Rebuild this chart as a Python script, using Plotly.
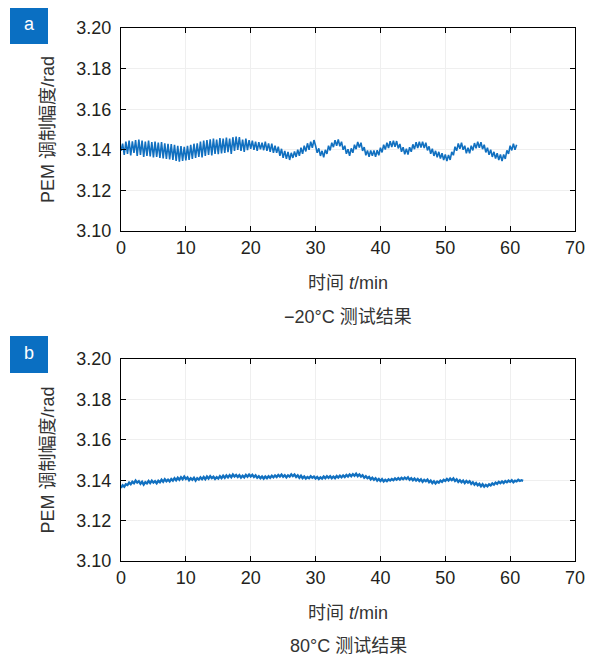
import numpy as np
import plotly.graph_objects as go

# Panel a: -20°C, sampled every 0.25 min from 0 to 61 min
vals_a = [
    3.1395, 3.1430, 3.1375, 3.1440,
    3.1380, 3.1445, 3.1372, 3.1442,
    3.1385, 3.1448, 3.1370, 3.1450,
    3.1375, 3.1445, 3.1365, 3.1440,
    3.1370, 3.1446, 3.1368, 3.1438,
    3.1362, 3.1440, 3.1365, 3.1435,
    3.1360, 3.1438, 3.1358, 3.1432,
    3.1355, 3.1430, 3.1352, 3.1428,
    3.1350, 3.1425, 3.1345, 3.1420,
    3.1342, 3.1418, 3.1345, 3.1415,
    3.1348, 3.1420, 3.1350, 3.1425,
    3.1355, 3.1430, 3.1360, 3.1432,
    3.1365, 3.1440, 3.1362, 3.1445,
    3.1370, 3.1448, 3.1375, 3.1452,
    3.1372, 3.1455, 3.1380, 3.1450,
    3.1378, 3.1458, 3.1382, 3.1455,
    3.1385, 3.1460, 3.1388, 3.1455,
    3.1380, 3.1462, 3.1395, 3.1465,
    3.1400, 3.1462, 3.1395, 3.1450,
    3.1390, 3.1455, 3.1398, 3.1448,
    3.1405, 3.1445, 3.1400, 3.1440,
    3.1395, 3.1438, 3.1402, 3.1435,
    3.1398, 3.1440, 3.1395, 3.1432,
    3.1390, 3.1430, 3.1385, 3.1420,
    3.1385, 3.1415, 3.1370, 3.1405,
    3.1360, 3.1395, 3.1355, 3.1390,
    3.1350, 3.1385, 3.1360, 3.1392,
    3.1365, 3.1400, 3.1370, 3.1410,
    3.1380, 3.1420, 3.1392, 3.1432,
    3.1400, 3.1440, 3.1410, 3.1448,
    3.1420, 3.1385, 3.1407, 3.1370,
    3.1395, 3.1363, 3.1400, 3.1380,
    3.1420, 3.1397, 3.1435, 3.1413,
    3.1447, 3.1420, 3.1451, 3.1417,
    3.1440, 3.1400, 3.1420, 3.1380,
    3.1403, 3.1370, 3.1407, 3.1385,
    3.1425, 3.1403, 3.1439, 3.1411,
    3.1435, 3.1395, 3.1413, 3.1373,
    3.1397, 3.1365, 3.1397, 3.1370,
    3.1397, 3.1365, 3.1398, 3.1373,
    3.1410, 3.1387, 3.1425, 3.1401,
    3.1435, 3.1409, 3.1442, 3.1414,
    3.1445, 3.1415, 3.1443, 3.1407,
    3.1429, 3.1390, 3.1413, 3.1378,
    3.1405, 3.1377, 3.1413, 3.1390,
    3.1427, 3.1403, 3.1437, 3.1409,
    3.1440, 3.1411, 3.1440, 3.1409,
    3.1435, 3.1397, 3.1417, 3.1380,
    3.1405, 3.1370, 3.1395, 3.1363,
    3.1390, 3.1357, 3.1383, 3.1350,
    3.1377, 3.1345, 3.1375, 3.1350,
    3.1390, 3.1373, 3.1415, 3.1395,
    3.1431, 3.1405, 3.1435, 3.1400,
    3.1420, 3.1383, 3.1410, 3.1383,
    3.1420, 3.1397, 3.1433, 3.1407,
    3.1440, 3.1410, 3.1437, 3.1403,
    3.1425, 3.1387, 3.1410, 3.1375,
    3.1400, 3.1365, 3.1390, 3.1357,
    3.1383, 3.1350, 3.1377, 3.1345,
    3.1377, 3.1355, 3.1397, 3.1380,
    3.1420, 3.1397, 3.1430, 3.1400,
    3.1425,
]

# Panel b: 80°C, sampled every 0.25 min from 0 to 62 min
vals_b = [
    3.1362, 3.1375, 3.1368, 3.1380,
    3.1376, 3.1388, 3.1380, 3.1392,
    3.1385, 3.1398, 3.1388, 3.1395,
    3.1382, 3.1392, 3.1378, 3.1390,
    3.1384, 3.1396, 3.1386, 3.1398,
    3.1388, 3.1395, 3.1385, 3.1397,
    3.1390, 3.1402, 3.1392, 3.1405,
    3.1395, 3.1403, 3.1394, 3.1406,
    3.1398, 3.1410, 3.1400, 3.1412,
    3.1402, 3.1415, 3.1405, 3.1418,
    3.1406, 3.1414, 3.1400, 3.1410,
    3.1402, 3.1412, 3.1398, 3.1410,
    3.1403, 3.1414, 3.1405, 3.1416,
    3.1405, 3.1418, 3.1408, 3.1420,
    3.1410, 3.1417, 3.1406, 3.1415,
    3.1408, 3.1420, 3.1410, 3.1422,
    3.1412, 3.1424, 3.1414, 3.1425,
    3.1415, 3.1428, 3.1418, 3.1426,
    3.1416, 3.1425, 3.1413, 3.1422,
    3.1414, 3.1426, 3.1417, 3.1428,
    3.1418, 3.1427, 3.1416, 3.1424,
    3.1412, 3.1420, 3.1410, 3.1418,
    3.1408, 3.1418, 3.1410, 3.1420,
    3.1412, 3.1422, 3.1414, 3.1424,
    3.1416, 3.1426, 3.1418, 3.1428,
    3.1417, 3.1425, 3.1414, 3.1424,
    3.1418, 3.1429, 3.1420, 3.1428,
    3.1416, 3.1424, 3.1412, 3.1422,
    3.1410, 3.1418, 3.1408, 3.1416,
    3.1410, 3.1420, 3.1412, 3.1418,
    3.1408, 3.1416, 3.1406, 3.1414,
    3.1408, 3.1418, 3.1410, 3.1420,
    3.1412, 3.1420, 3.1410, 3.1418,
    3.1410, 3.1421, 3.1413, 3.1422,
    3.1414, 3.1424, 3.1416, 3.1426,
    3.1418, 3.1428, 3.1420, 3.1430,
    3.1422, 3.1432, 3.1420, 3.1428,
    3.1418, 3.1425, 3.1412, 3.1420,
    3.1410, 3.1416, 3.1404, 3.1412,
    3.1402, 3.1410, 3.1398, 3.1406,
    3.1396, 3.1405, 3.1394, 3.1402,
    3.1395, 3.1404, 3.1398, 3.1406,
    3.1400, 3.1409, 3.1402, 3.1410,
    3.1403, 3.1412, 3.1405, 3.1413,
    3.1406, 3.1414, 3.1402, 3.1410,
    3.1400, 3.1408, 3.1398, 3.1406,
    3.1396, 3.1404, 3.1392, 3.1402,
    3.1395, 3.1403, 3.1390, 3.1398,
    3.1386, 3.1395, 3.1384, 3.1393,
    3.1388, 3.1398, 3.1392, 3.1402,
    3.1396, 3.1406, 3.1398, 3.1408,
    3.1400, 3.1409, 3.1396, 3.1404,
    3.1392, 3.1400, 3.1390, 3.1398,
    3.1386, 3.1396, 3.1388, 3.1395,
    3.1382, 3.1390, 3.1378, 3.1386,
    3.1375, 3.1382, 3.1370, 3.1380,
    3.1368, 3.1377, 3.1370, 3.1380,
    3.1374, 3.1384, 3.1378, 3.1388,
    3.1382, 3.1392, 3.1385, 3.1394,
    3.1386, 3.1396, 3.1390, 3.1398,
    3.1392, 3.1400, 3.1390, 3.1398,
    3.1394, 3.1402, 3.1396, 3.1400,
    3.1397,
]

step_min = 0.25
t_a = np.arange(len(vals_a)) * step_min
t_b = np.arange(len(vals_b)) * step_min

x_ticks = [0, 10, 20, 30, 40, 50, 60, 70]
y_ticks = [3.10, 3.12, 3.14, 3.16, 3.18, 3.20]
y_ticktext = ["3.10", "3.12", "3.14", "3.16", "3.18", "3.20"]
panel_labels = ["a", "b"]
captions = ["\u221220°C 测试结果", "80°C 测试结果"]
x_title = "时间 <i>t</i>/min"
y_title = "PEM 调制幅度/rad"

# The page body adds an ~8px offset; the figure is sized to the remaining view
OFF = 8
W, H = 595 - OFF, 657 - OFF
FONT = "Liberation Sans, Arial, Noto Sans CJK SC, sans-serif"
LINE_COLOR = "#1170c0"
TEXT_COLOR = "#231f20"


def px_x(x):
    return (x - OFF) / W


def px_y(y):
    return 1 - (y - OFF) / H


fig = go.Figure()
fig.add_trace(go.Scatter(x=t_a, y=vals_a, mode="lines", xaxis="x", yaxis="y",
                         line=dict(color=LINE_COLOR, width=1.6), showlegend=False))
fig.add_trace(go.Scatter(x=t_b, y=vals_b, mode="lines", xaxis="x2", yaxis="y2",
                         line=dict(color=LINE_COLOR, width=2.3), showlegend=False))

xdom = [px_x(121), px_x(575)]
ydom_a = [px_y(231), px_y(28)]
ydom_b = [px_y(561), px_y(359)]


def xaxis(anchor):
    return dict(domain=xdom, anchor=anchor, range=[0, 70], tickvals=x_ticks,
                automargin=False,
                showline=True, linecolor="black", linewidth=1, mirror="ticks",
                ticks="inside", ticklen=5, tickcolor="black",
                showgrid=True, gridcolor="#efefef", gridwidth=1, zeroline=False,
                tickfont=dict(family=FONT, size=18, color=TEXT_COLOR),
                title=dict(text=x_title, font=dict(family=FONT, size=18, color="#333333"),
                           standoff=19))


def yaxis(anchor, dom):
    return dict(domain=dom, anchor=anchor, range=[3.10, 3.20], tickvals=y_ticks,
                ticktext=y_ticktext, automargin=False, ticklabelstandoff=5,
                showline=True, linecolor="black", linewidth=1, mirror="ticks",
                ticks="inside", ticklen=5, tickcolor="black",
                showgrid=True, gridcolor="#efefef", gridwidth=1, zeroline=False,
                tickfont=dict(family=FONT, size=18, color=TEXT_COLOR),
                title=dict(text=y_title, font=dict(family=FONT, size=18, color="#333333"),
                           standoff=17))


annotations = []
shapes = []
box_tops = [7, 336]
caption_y = [317, 646]
for i in range(2):
    top = box_tops[i]
    shapes.append(dict(type="rect", xref="paper", yref="paper",
                       x0=px_x(10), x1=px_x(48), y0=px_y(top + 37), y1=px_y(top),
                       fillcolor="#0a6fc2", line=dict(width=0), layer="above"))
    annotations.append(dict(text=panel_labels[i], xref="paper", yref="paper",
                            x=px_x(29), y=px_y(top + 17), showarrow=False,
                            xanchor="center", yanchor="middle",
                            font=dict(family=FONT, size=18, color="white")))
    annotations.append(dict(text=captions[i], xref="paper", yref="paper",
                            x=px_x(348), y=px_y(caption_y[i]), showarrow=False,
                            xanchor="center", yanchor="middle",
                            font=dict(family=FONT, size=18, color="#333333")))

fig.update_layout(
    template="none",
    width=W, height=H,
    margin=dict(l=0, r=0, t=0, b=0),
    paper_bgcolor="white", plot_bgcolor="white",
    xaxis=xaxis("y"), yaxis=yaxis("x", ydom_a),
    xaxis2=xaxis("y2"), yaxis2=yaxis("x2", ydom_b),
    shapes=shapes, annotations=annotations,
)

fig.write_html("out.html")
